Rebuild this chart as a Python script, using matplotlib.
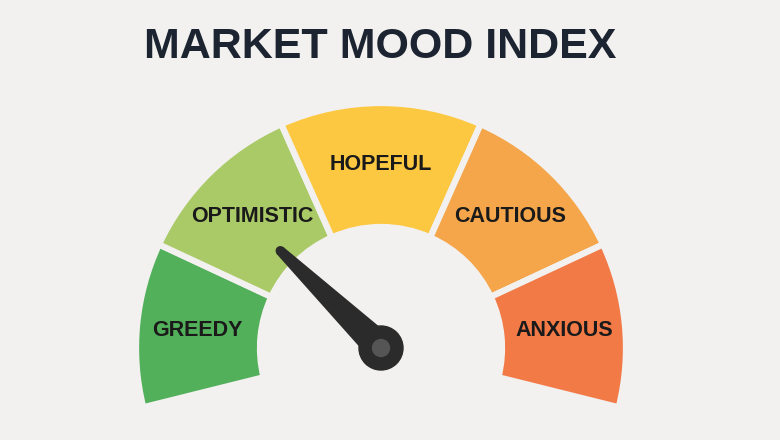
import numpy as np
import matplotlib
matplotlib.use('Agg')
import matplotlib.pyplot as plt
from matplotlib.patches import Wedge, Circle, Polygon

# Gauge data: segment labels, colours and angular span (degrees, counter-clockwise from left end)
categories = ['GREEDY', 'OPTIMISTIC', 'HOPEFUL', 'CAUTIOUS', 'ANXIOUS']
colors = ['#52b05a', '#a9ca66', '#fdc841', '#f5a64b', '#f17a47']
spans = [39, 41, 48, 41, 39]
start_angle = 194          # left end of the gauge
needle_angle = 136         # where the needle points
title = 'MARKET MOOD INDEX'

bg = '#f2f1ef'
fig = plt.figure(figsize=(7.8, 4.4), dpi=100, facecolor=bg)
ax = fig.add_axes([0, 0, 1, 1])
ax.set_xlim(0, 780)
ax.set_ylim(0, 440)
ax.set_aspect('equal')
ax.axis('off')
ax.set_facecolor(bg)

cx, cy = 381, 92
r_out, r_in = 245, 121

# Segments, drawn clockwise from the left
a = start_angle
for name, col, sp in zip(categories, colors, spans):
    a2 = a - sp
    ax.add_patch(Wedge((cx, cy), r_out, a2, a, width=r_out - r_in,
                       facecolor=col, edgecolor=bg, linewidth=4.5))
    mid = np.radians((a + a2) / 2)
    ax.text(cx + 184 * np.cos(mid), cy + 184 * np.sin(mid), name,
            ha='center', va='center', fontsize=15.5, color='#1a1a1a',
            family='Liberation Sans', fontweight='bold')
    a = a2

# Needle
t = np.radians(needle_angle)
n = np.array([-np.sin(t), np.cos(t)])
d = np.array([np.cos(t), np.sin(t)])
base = np.array([cx, cy])
tip = base + 140 * d
pts = [base + 14 * n, tip + 3.5 * n, tip - 3.5 * n, base - 14 * n]
ax.add_patch(Polygon(pts, closed=True, facecolor='#2b2b2b', edgecolor='#2b2b2b',
                     joinstyle='round', linewidth=2))
ax.add_patch(Circle(tip, 4, color='#2b2b2b'))
ax.add_patch(Circle((cx, cy), 22, color='#2b2b2b'))
ax.add_patch(Circle((cx, cy), 8.5, color='#555555'))

ax.text(380, 440 - 47, title, ha='center', va='center', fontsize=31,
        fontweight='bold', color='#1b2430', family='Liberation Sans')

fig.savefig('out.png', dpi=100, facecolor=bg)
